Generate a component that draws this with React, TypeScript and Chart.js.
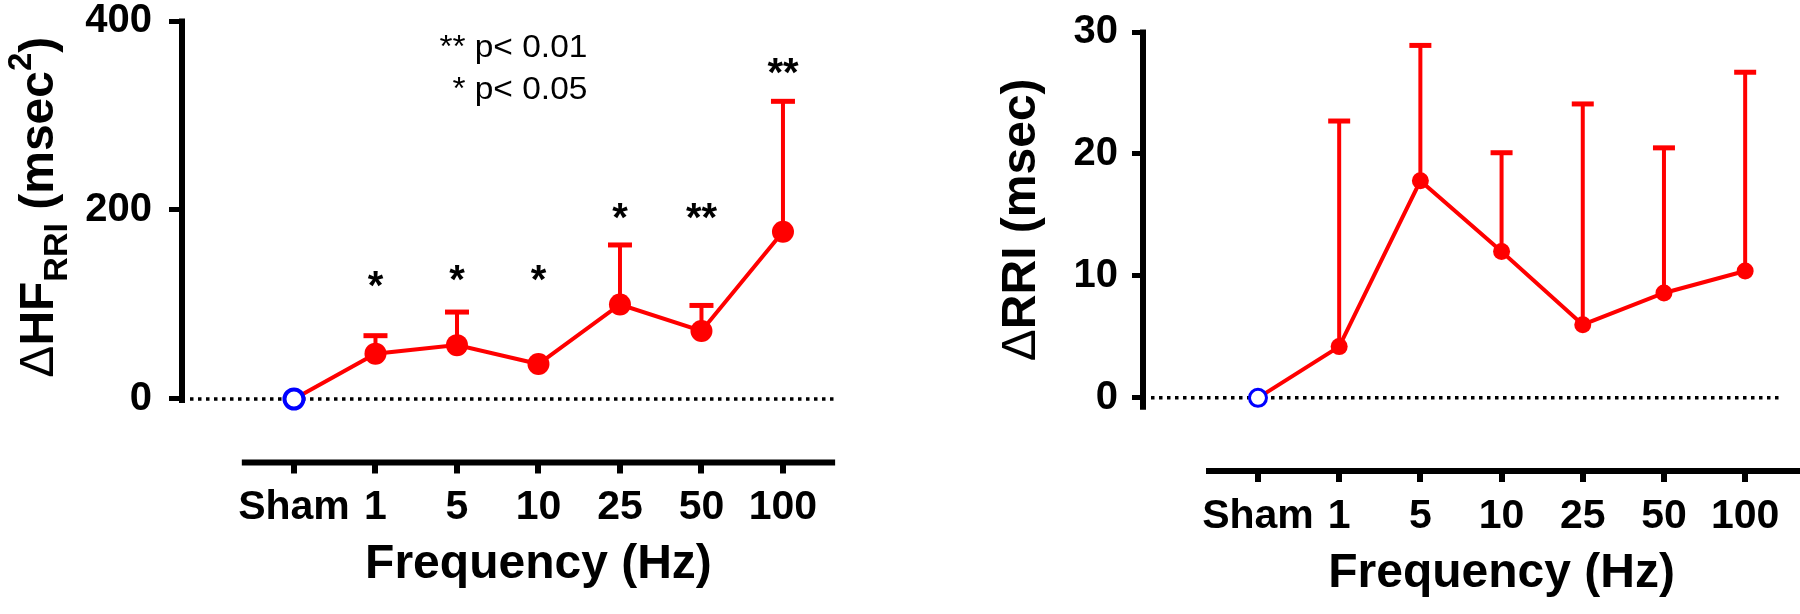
import React, { useEffect, useRef } from "react";
import { Chart, registerables } from "chart.js";

Chart.register(...registerables);

// ---------- data ----------
const categories = ["Sham", "1", "5", "10", "25", "50", "100"];

const hfMean = [0, 48, 57, 37, 100, 72, 177];
const hfSem = [0, 19, 35, 0, 63, 27, 138];
const hfTicks = [0, 200, 400];
const hfStars = ["", "*", "*", "*", "*", "**", "**"];
const hfStarLevels = [0, 130, 136, 136, 202, 202, 356];
const legendLines = ["** p< 0.01", "* p< 0.05"];
const legendLevels = [362, 317];

const rriMean = [0, 4.2, 17.8, 12.0, 6.0, 8.6, 10.4];
const rriSem = [0, 18.5, 11.1, 8.1, 18.1, 11.9, 16.3];
const rriTicks = [0, 10, 20, 30];

const xTitle = "Frequency (Hz)";

// ---------- style ----------
const FONT = "'Liberation Sans', Arial, Helvetica, sans-serif";
const RED = "#ff0000";
const BLUE = "#0000ff";
const W = 900;
const H = 614;

type Seg = { t: string; w: string; s: number; dy: number };

const hfTitle: Seg[] = [
  { t: "\u0394", w: "normal", s: 48, dy: 0 },
  { t: "HF", w: "bold", s: 48, dy: 0 },
  { t: "RRI", w: "bold", s: 34, dy: 14 },
  { t: " (msec", w: "bold", s: 48, dy: 0 },
  { t: "2", w: "bold", s: 33, dy: -22 },
  { t: ")", w: "bold", s: 48, dy: 0 },
];
const rriTitle: Seg[] = [
  { t: "\u0394", w: "normal", s: 48, dy: 0 },
  { t: "RRI (msec)", w: "bold", s: 48, dy: 0 },
];

type Panel = {
  id: string;
  mean: number[];
  sem: number[];
  ticks: number[];
  yMin: number;
  yMax: number;
  xMin: number;
  xMax: number;
  axisFrom: number;
  axisTo: number;
  areaLeft: number;
  areaTop: number;
  areaBottom: number;
  padRight: number;
  pointR: number;
  shamR: number;
  shamBorder: number;
  lineW: number;
  errW: number;
  capW: number;
  capHalf: number;
  yTickLen: number;
  yTickPad: number;
  xTickLen: number;
  xTickPad: number;
  yAxisExtra: number;
  title: Seg[];
  titleX: number;
  titleMid: number;
  xTitleOffset: number;
  stars?: string[];
  starLevels?: number[];
  legend?: string[];
  legendLevels?: number[];
  legendX?: number;
};

const panels: Panel[] = [
  {
    id: "hf",
    mean: hfMean,
    sem: hfSem,
    ticks: hfTicks,
    yMin: -67.2,
    yMax: 400,
    xMin: -1.374,
    xMax: 6.663,
    axisFrom: -0.64,
    axisTo: 6.64,
    areaLeft: 182,
    areaTop: 21,
    areaBottom: 462.5,
    padRight: 63,
    pointR: 11,
    shamR: 9.5,
    shamBorder: 4,
    lineW: 4,
    errW: 4,
    capW: 5,
    capHalf: 12,
    yTickLen: 13,
    yTickPad: 17,
    xTickLen: 11,
    xTickPad: 10,
    yAxisExtra: 4,
    title: hfTitle,
    titleX: 53,
    titleMid: 203,
    xTitleOffset: 115.5,
    stars: hfStars,
    starLevels: hfStarLevels,
    legend: legendLines,
    legendLevels: legendLevels,
    legendX: 3.6,
  },
  {
    id: "rri",
    mean: rriMean,
    sem: rriSem,
    ticks: rriTicks,
    yMin: -6.0,
    yMax: 30,
    xMin: -1.416,
    xMax: 6.466,
    axisFrom: -0.64,
    axisTo: 6.7,
    areaLeft: 243,
    areaTop: 32,
    areaBottom: 471,
    padRight: 17,
    pointR: 8.5,
    shamR: 8.5,
    shamBorder: 3,
    lineW: 4,
    errW: 4,
    capW: 5,
    capHalf: 11,
    yTickLen: 11,
    yTickPad: 14,
    xTickLen: 11,
    xTickPad: 10,
    yAxisExtra: 12,
    title: rriTitle,
    titleX: 135,
    titleMid: 14.6,
    xTitleOffset: 116,
  },
];

function makePlugin(p: Panel) {
  return {
    id: "custom_" + p.id,
    beforeDatasetsDraw(chart: any) {
      const { ctx, chartArea, scales } = chart;
      const xs = scales.x;
      const ys = scales.y;
      const y0 = ys.getPixelForValue(0);
      ctx.save();
      // dotted zero line
      ctx.strokeStyle = "#000";
      ctx.lineWidth = 3.5;
      ctx.lineCap = "butt";
      ctx.setLineDash([3.5, 4.5]);
      ctx.beginPath();
      ctx.moveTo(chartArea.left + 8, y0);
      ctx.lineTo(chartArea.right, y0);
      ctx.stroke();
      ctx.setLineDash([]);
      // error bars (upper)
      ctx.strokeStyle = RED;
      ctx.lineCap = "butt";
      p.mean.forEach((m, i) => {
        const e = p.sem[i];
        if (!e) return;
        const x = xs.getPixelForValue(i);
        const yt = ys.getPixelForValue(m + e);
        const ym = ys.getPixelForValue(m);
        ctx.lineWidth = p.errW;
        ctx.beginPath();
        ctx.moveTo(x, ym);
        ctx.lineTo(x, yt);
        ctx.stroke();
        ctx.lineWidth = p.capW;
        ctx.beginPath();
        ctx.moveTo(x - p.capHalf, yt);
        ctx.lineTo(x + p.capHalf, yt);
        ctx.stroke();
      });
      ctx.restore();
    },
    afterDraw(chart: any) {
      const { ctx, chartArea, scales } = chart;
      const xs = scales.x;
      const ys = scales.y;
      ctx.save();
      ctx.strokeStyle = "#000";
      ctx.fillStyle = "#000";
      ctx.lineCap = "butt";
      // y axis line
      ctx.lineWidth = 6;
      ctx.beginPath();
      ctx.moveTo(chartArea.left, ys.getPixelForValue(p.yMax) - 2.5);
      ctx.lineTo(chartArea.left, ys.getPixelForValue(0) + p.yAxisExtra);
      ctx.stroke();
      // x axis line (detached)
      ctx.beginPath();
      ctx.moveTo(xs.getPixelForValue(p.axisFrom), chartArea.bottom);
      ctx.lineTo(xs.getPixelForValue(p.axisTo), chartArea.bottom);
      ctx.stroke();

      // y title with sub/superscripts
      ctx.save();
      ctx.translate(p.titleX, ys.getPixelForValue(p.titleMid));
      ctx.rotate(-Math.PI / 2);
      ctx.textAlign = "left";
      ctx.textBaseline = "alphabetic";
      const widths = p.title.map((s) => {
        ctx.font = `${s.w} ${s.s}px ${FONT}`;
        return ctx.measureText(s.t).width;
      });
      const total = widths.reduce((a, b) => a + b, 0);
      let tx = -total / 2;
      p.title.forEach((s, i) => {
        ctx.font = `${s.w} ${s.s}px ${FONT}`;
        ctx.fillText(s.t, tx, s.dy);
        tx += widths[i];
      });
      ctx.restore();

      // x title
      ctx.font = `bold 48px ${FONT}`;
      ctx.textAlign = "center";
      ctx.textBaseline = "alphabetic";
      ctx.fillText(xTitle, xs.getPixelForValue(3), chartArea.bottom + p.xTitleOffset);

      // significance stars
      if (p.stars && p.starLevels) {
        ctx.font = `bold 40px ${FONT}`;
        ctx.textAlign = "center";
        p.stars.forEach((s, i) => {
          if (!s) return;
          ctx.fillText(s, xs.getPixelForValue(i), ys.getPixelForValue(p.starLevels![i]) + 23);
        });
      }
      // legend text
      if (p.legend && p.legendLevels && p.legendX !== undefined) {
        ctx.font = `normal 31px ${FONT}`;
        ctx.textAlign = "right";
        p.legend.forEach((line, i) => {
          ctx.save();
          ctx.translate(xs.getPixelForValue(p.legendX!), ys.getPixelForValue(p.legendLevels![i]));
          ctx.scale(1.08, 1);
          ctx.fillText(line, 0, 0);
          ctx.restore();
        });
      }
      ctx.restore();
    },
  };
}

function buildConfig(p: Panel): any {
  const n = p.mean.length;
  return {
    type: "line",
    data: {
      datasets: [
        {
          data: p.mean.map((v, i) => ({ x: i, y: v })),
          borderColor: RED,
          borderWidth: p.lineW,
          tension: 0,
          fill: false,
          pointRadius: p.mean.map((_, i) => (i === 0 ? p.shamR : p.pointR)),
          pointHoverRadius: p.mean.map((_, i) => (i === 0 ? p.shamR : p.pointR)),
          pointBackgroundColor: p.mean.map((_, i) => (i === 0 ? "#ffffff" : RED)),
          pointBorderColor: p.mean.map((_, i) => (i === 0 ? BLUE : RED)),
          pointBorderWidth: p.mean.map((_, i) => (i === 0 ? p.shamBorder : 0)),
          clip: false,
        },
      ],
    },
    options: {
      responsive: false,
      animation: false,
      events: [],
      layout: {
        autoPadding: false,
        padding: { left: 0, top: p.areaTop, right: p.padRight, bottom: 0 },
      },
      plugins: {
        legend: { display: false },
        tooltip: { enabled: false },
        title: { display: false },
      },
      scales: {
        x: {
          type: "linear",
          position: "bottom",
          bounds: "data",
          min: p.xMin,
          max: p.xMax,
          afterBuildTicks: (s: any) => {
            s.ticks = categories.slice(0, n).map((_, i) => ({ value: i }));
          },
          afterFit: (s: any) => {
            s.height = H - p.areaBottom;
            s.paddingLeft = 0;
            s.paddingRight = 0;
          },
          ticks: {
            autoSkip: false,
            maxRotation: 0,
            minRotation: 0,
            padding: p.xTickPad,
            color: "#000",
            font: { family: FONT, size: 41, weight: "bold" },
            callback: (v: any) => categories[v] ?? "",
          },
          grid: {
            display: true,
            drawOnChartArea: false,
            drawTicks: true,
            tickLength: p.xTickLen,
            lineWidth: 6,
            color: "#000",
          },
          border: { display: false },
        },
        y: {
          type: "linear",
          position: "left",
          bounds: "data",
          min: p.yMin,
          max: p.yMax,
          afterBuildTicks: (s: any) => {
            s.ticks = p.ticks.map((v) => ({ value: v }));
          },
          afterFit: (s: any) => {
            s.width = p.areaLeft;
            s.paddingTop = 0;
            s.paddingBottom = 0;
          },
          ticks: {
            padding: p.yTickPad,
            color: "#000",
            font: { family: FONT, size: 40, weight: "bold" },
            callback: (v: any) => String(v),
          },
          grid: {
            display: true,
            drawOnChartArea: false,
            drawTicks: true,
            tickLength: p.yTickLen,
            lineWidth: 5,
            color: "#000",
          },
          border: { display: false },
        },
      },
    },
    plugins: [makePlugin(p)],
  };
}

function PanelChart({ panel, left }: { panel: Panel; left: number }) {
  const ref = useRef<HTMLCanvasElement | null>(null);
  useEffect(() => {
    if (!ref.current) return;
    const chart = new Chart(ref.current, buildConfig(panel));
    return () => chart.destroy();
  }, [panel]);
  return (
    <canvas
      ref={ref}
      width={W}
      height={H}
      style={{ position: "absolute", left, top: 0, width: W, height: H }}
    />
  );
}

export default function App() {
  return (
    <div
      style={{
        position: "fixed",
        left: 0,
        top: 0,
        width: 1800,
        height: 614,
        background: "#ffffff",
        overflow: "hidden",
      }}
    >
      <PanelChart panel={panels[0]} left={0} />
      <PanelChart panel={panels[1]} left={900} />
    </div>
  );
}
